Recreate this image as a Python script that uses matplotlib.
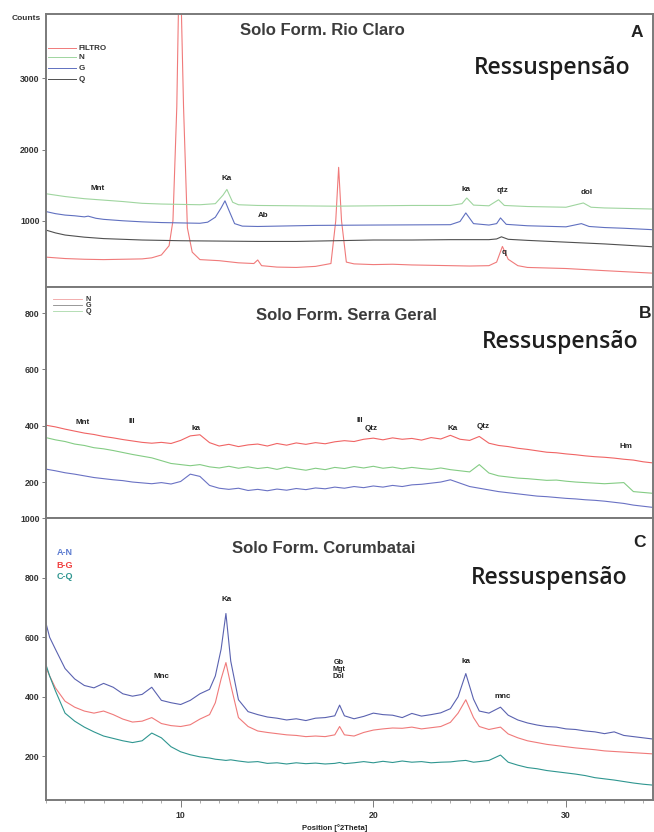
import matplotlib
matplotlib.use('Agg')
import matplotlib.pyplot as plt
from matplotlib.ticker import MultipleLocator

plt.rcParams.update({
    'font.family': ['Liberation Sans', 'DejaVu Sans'],
    'font.size': 6,
})

# ---------------- Panel A: Solo Form. Rio Claro ----------------
A_N_x = [3, 4, 5, 6, 7, 8, 9, 10, 11, 11.8, 12.2, 12.4, 12.7, 13, 14, 16, 18, 20, 22, 24,
         24.6, 24.85, 25.2, 26, 26.5, 26.8, 28, 30, 30.9, 31.3, 32, 34.5]
A_N_y = [1380, 1340, 1310, 1290, 1270, 1245, 1235, 1230, 1225, 1240, 1360, 1440, 1260, 1225, 1215, 1210, 1205, 1210, 1215, 1215,
         1240, 1320, 1220, 1210, 1295, 1215, 1200, 1190, 1250, 1190, 1180, 1165]

A_G_x = [3, 3.5, 4, 4.5, 5, 5.2, 5.6, 6, 7, 8, 9, 10, 11, 11.4, 11.8, 12.1, 12.3, 12.5, 12.8, 13.2,
         14, 17, 20, 24, 24.5, 24.8, 25.2, 26, 26.4, 26.6, 26.9, 28, 30, 30.8, 31.2, 32, 33, 34.5]
A_G_y = [1130, 1100, 1080, 1070, 1055, 1065, 1035, 1020, 1000, 985, 975, 970, 965, 980, 1050, 1180, 1280, 1150, 960, 925,
         920, 935, 940, 945, 990, 1110, 960, 940, 960, 1040, 950, 930, 915, 960, 920, 905, 895, 875]

A_Q_x = [3, 3.5, 4, 5, 6, 7, 8, 10, 12, 14, 16, 18, 20, 22, 24, 26, 26.4, 26.65, 27, 28, 30, 32, 34.5]
A_Q_y = [870, 830, 800, 770, 750, 740, 730, 720, 715, 710, 710, 720, 730, 730, 735, 735, 745, 775, 740, 725, 700, 675, 635]

A_F_x = [3, 4, 5, 6, 7, 8, 8.5, 9, 9.4, 9.6, 9.8, 9.95, 10.15, 10.35, 10.6, 11, 12, 13, 13.8, 14.0,
         14.2, 15, 16, 17, 17.8, 18.05, 18.2, 18.35, 18.6, 19, 20, 21, 22, 23, 24, 25, 26, 26.4,
         26.7, 27, 27.5, 28, 30, 32, 34.5]
A_F_y = [490, 470, 460, 455, 460, 465, 480, 520, 650, 1000, 2600, 5000, 2600, 900, 560, 455, 440, 410, 400, 450,
         370, 350, 345, 360, 400, 1000, 1750, 1000, 420, 395, 385, 390, 380, 375, 370, 365, 370, 420,
         640, 460, 370, 345, 330, 300, 265]

# ---------------- Panel B: Solo Form. Serra Geral ----------------
B_2theta = [3.0, 3.5, 4.0, 4.5, 5.0, 5.5, 6.0, 6.5, 7.0, 7.5, 8.0, 8.5, 9.0, 9.5, 10.0, 10.5,
            11.0, 11.5, 12.0, 12.5, 13.0, 13.5, 14.0, 14.5, 15.0, 15.5, 16.0, 16.5, 17.0, 17.5, 18.0, 18.5,
            19.0, 19.5, 20.0, 20.5, 21.0, 21.5, 22.0, 22.5, 23.0, 23.5, 24.0, 24.5, 25.0, 25.5, 26.0, 26.5,
            27.0, 27.5, 28.0, 28.5, 29.0, 29.5, 30.0, 30.5, 31.0, 31.5, 32.0, 32.5, 33.0, 33.5, 34.0, 34.5]
B_N = [402, 396, 388, 381, 374, 369, 362, 357, 351, 346, 341, 338, 341, 337, 348, 364,
       368, 340, 328, 334, 326, 332, 335, 328, 337, 331, 339, 334, 340, 336, 343, 347,
       344, 352, 356, 350, 357, 352, 355, 349, 358, 353, 366, 352, 348, 362, 338, 330,
       326, 320, 316, 311, 306, 304, 300, 297, 293, 290, 288, 285, 281, 278, 272, 268]
B_G = [358, 350, 344, 335, 330, 322, 318, 312, 305, 298, 292, 286, 276, 266, 262, 258,
       262, 254, 250, 256, 249, 254, 248, 252, 245, 253, 247, 242, 249, 244, 252, 248,
       255, 250, 256, 249, 253, 247, 252, 248, 245, 250, 244, 240, 236, 262, 232, 222,
       218, 214, 212, 209, 206, 207, 203, 200, 198, 196, 194, 196, 198, 166, 163, 160]
B_Q = [246, 240, 233, 228, 222, 216, 212, 208, 205, 200, 197, 194, 198, 193, 202, 228,
       220, 188, 178, 174, 178, 170, 174, 169, 175, 171, 177, 173, 179, 176, 182, 178,
       184, 180, 186, 182, 188, 184, 190, 192, 196, 200, 208, 196, 184, 178, 172, 166,
       162, 158, 154, 150, 148, 145, 142, 140, 137, 135, 132, 128, 124, 118, 114, 110]

# ---------------- Panel C: Solo Form. Corumbatai ----------------
C_2theta = [3.0, 3.2, 3.5, 4.0, 4.5, 5.0, 5.5, 6.0, 6.5, 7.0, 7.5, 8.0, 8.5, 9.0, 9.5, 10.0,
            10.5, 11.0, 11.5, 11.8, 12.1, 12.35, 12.6, 13.0, 13.5, 14.0, 14.5, 15.0, 15.5, 16.0, 16.5, 17.0,
            17.5, 18.0, 18.25, 18.5, 19.0, 19.5, 20.0, 20.5, 21.0, 21.5, 22.0, 22.5, 23.0, 23.5, 24.0, 24.4,
            24.8, 25.2, 25.5, 26.0, 26.6, 27.0, 27.5, 28.0, 28.5, 29.0, 29.5, 30.0, 30.5, 31.0, 31.5, 32.0,
            32.5, 33.0, 33.5, 34.0, 34.5]
C_AN = [650, 600, 560, 495, 460, 438, 430, 445, 432, 410, 402, 408, 432, 388, 380, 374,
        388, 410, 425, 470, 560, 680, 520, 390, 350, 340, 332, 328, 322, 326, 320, 328,
        330, 336, 372, 336, 326, 334, 345, 340, 338, 330, 344, 335, 340, 346, 360, 400,
        478, 392, 352, 345, 365, 338, 322, 312, 305, 300, 298, 292, 290, 285, 282, 276,
        282, 270, 266, 262, 258]
C_BG = [500, 470, 430, 385, 365, 352, 345, 352, 340, 325, 315, 318, 330, 310, 303, 300,
        306, 325, 340, 380, 460, 515, 440, 330, 300, 285, 280, 276, 272, 270, 266, 268,
        266, 272, 300, 272, 268, 280, 288, 292, 295, 294, 298, 292, 296, 300, 314, 345,
        390, 330, 300, 290, 298, 275, 262, 252, 246, 240, 236, 232, 228, 225, 222, 218,
        216, 214, 212, 210, 208]
C_CQ = [510, 470, 420, 345, 318, 298, 282, 268, 260, 252, 246, 252, 278, 262, 232, 215,
        205, 198, 194, 190, 188, 186, 188, 184, 180, 182, 176, 178, 174, 178, 175, 177,
        174, 176, 179, 175, 178, 182, 178, 183, 179, 184, 180, 182, 178, 180, 181, 184,
        186, 180, 182, 186, 204, 180, 170, 162, 158, 152, 148, 144, 140, 135, 128, 124,
        120, 115, 110, 106, 103]

fig = plt.figure(figsize=(6.54, 8.32), dpi=100)
axA = fig.add_axes([0.070, 0.655, 0.928, 0.328])
axB = fig.add_axes([0.070, 0.377, 0.928, 0.278])
axC = fig.add_axes([0.070, 0.0385, 0.928, 0.3385])

SPINE = '#7a7a7a'


def style(ax, ylim, yticks, bottom_ticks=False):
    ax.set_xlim(3, 34.5)
    ax.set_ylim(*ylim)
    ax.set_yticks(yticks)
    ax.set_yticklabels([str(t) for t in yticks], fontsize=6.3, fontweight='bold', color='#333333')
    for s in ax.spines.values():
        s.set_color(SPINE)
        s.set_linewidth(1.4)
    ax.tick_params(axis='y', direction='out', length=3, width=0.6, color='#666666', pad=1.5)
    if bottom_ticks:
        ax.xaxis.set_major_locator(MultipleLocator(10))
        ax.xaxis.set_minor_locator(MultipleLocator(1))
        ax.tick_params(axis='x', which='major', direction='out', length=5, width=0.6,
                       color='#666666', labelsize=6.3, pad=3)
        ax.tick_params(axis='x', which='minor', direction='out', length=2, width=0.5, color='#888888')
        for lab in ax.get_xticklabels():
            lab.set_fontweight('bold')
            lab.set_color('#333333')
    else:
        ax.set_xticks([])


def label(ax, x, y, s, size=5.8):
    ax.text(x, y, s, fontsize=size, fontweight='bold', color='#222222', ha='center', va='center',
            linespacing=0.95)


# Panel A
axA.plot(A_F_x, A_F_y, color='#f07a7a', lw=0.8)
axA.plot(A_Q_x, A_Q_y, color='#505050', lw=0.8)
axA.plot(A_G_x, A_G_y, color='#6070c0', lw=0.8)
axA.plot(A_N_x, A_N_y, color='#9fd59f', lw=0.8)
style(axA, (70, 3900), [1000, 2000, 3000])
for yy, lab, c in [(0.875, 'FILTRO', '#f07a7a'), (0.842, 'N', '#9fd59f'),
                   (0.802, 'G', '#6070c0'), (0.762, 'Q', '#505050')]:
    axA.plot([0.003, 0.05], [yy, yy], transform=axA.transAxes, color=c, lw=0.7)
    axA.text(0.054, yy, lab, transform=axA.transAxes, fontsize=5.8, fontweight='bold',
             color='#333333', va='center')
label(axA, 5.7, 1450, 'Mnt')
label(axA, 12.4, 1600, 'Ka')
label(axA, 14.3, 1080, 'Ab')
label(axA, 24.8, 1440, 'ka')
label(axA, 26.7, 1420, 'qtz')
label(axA, 31.1, 1390, 'dol')
label(axA, 26.8, 555, 'q')
axA.text(0.456, 0.941, 'Solo Form. Rio Claro', transform=axA.transAxes, ha='center', va='center',
         fontsize=12, fontweight='bold', color='#3c3c3c')
axA.text(0.974, 0.934, 'A', transform=axA.transAxes, ha='center', va='center',
         fontsize=12.5, fontweight='bold', color='#222222')
axA.text(0.835, 0.802, 'Ressuspensão', transform=axA.transAxes, ha='center', va='center',
         fontsize=16.5, fontweight='semibold', family='Open Sans', color='#1e1e1e')

# Panel B
axB.plot(B_2theta, B_N, color='#f06464', lw=0.8)
axB.plot(B_2theta, B_G, color='#84cc84', lw=0.8)
axB.plot(B_2theta, B_Q, color='#6a72c4', lw=0.8)
style(axB, (71, 893), [200, 400, 600, 800])
for yy, lab, c in [(0.948, 'N', '#f0a0a0'), (0.922, 'G', '#888888'), (0.896, 'Q', '#a8d8a8')]:
    axB.plot([0.012, 0.06], [yy, yy], transform=axB.transAxes, color=c, lw=0.6)
    axB.text(0.066, yy, lab, transform=axB.transAxes, fontsize=5.2, fontweight='bold',
             color='#333333', va='center')
label(axB, 4.9, 412, 'Mnt')
label(axB, 7.45, 415, 'Ill')
label(axB, 10.8, 392, 'ka')
label(axB, 19.3, 418, 'Ill')
label(axB, 19.9, 392, 'Qtz')
label(axB, 24.1, 392, 'Ka')
label(axB, 25.7, 398, 'Qtz')
label(axB, 33.1, 325, 'Hm')
axB.text(0.496, 0.879, 'Solo Form. Serra Geral', transform=axB.transAxes, ha='center', va='center',
         fontsize=12, fontweight='bold', color='#3c3c3c')
axB.text(0.987, 0.887, 'B', transform=axB.transAxes, ha='center', va='center',
         fontsize=12.5, fontweight='bold', color='#222222')
axB.text(0.847, 0.762, 'Ressuspensão', transform=axB.transAxes, ha='center', va='center',
         fontsize=16.5, fontweight='semibold', family='Open Sans', color='#1e1e1e')

# Panel C
axC.plot(C_2theta, C_AN, color='#5a62b0', lw=0.8)
axC.plot(C_2theta, C_BG, color='#f07a7a', lw=0.8)
axC.plot(C_2theta, C_CQ, color='#2f9690', lw=0.8)
style(axC, (53, 1000), [200, 400, 600, 800, 1000], bottom_ticks=True)
for yy, lab, c in [(0.879, 'A-N', '#5a7ad0'), (0.833, 'B-G', '#f04040'), (0.794, 'C-Q', '#2f9690')]:
    axC.text(0.018, yy, lab, transform=axC.transAxes, fontsize=6.5, fontweight='bold',
             color=c, va='center')
label(axC, 9.0, 467, 'Mnc')
label(axC, 12.4, 727, 'Ka')
label(axC, 18.2, 492, 'Gb\nMgt\nDol', size=5.2)
label(axC, 24.8, 520, 'ka')
label(axC, 26.7, 400, 'mnc')
axC.text(0.458, 0.894, 'Solo Form. Corumbatai', transform=axC.transAxes, ha='center', va='center',
         fontsize=12, fontweight='bold', color='#3c3c3c')
axC.text(0.979, 0.915, 'C', transform=axC.transAxes, ha='center', va='center',
         fontsize=12.5, fontweight='bold', color='#222222')
axC.text(0.830, 0.787, 'Ressuspensão', transform=axC.transAxes, ha='center', va='center',
         fontsize=16.5, fontweight='semibold', family='Open Sans', color='#1e1e1e')
axC.set_xlabel('Position [°2Theta]', fontsize=5.5, fontweight='bold', color='#222222')
axC.xaxis.set_label_coords(0.476, -0.085)

fig.text(0.04, 0.978, 'Counts', fontsize=6, fontweight='bold', color='#333333', ha='center', va='center')

fig.savefig('out.png', dpi=100)
